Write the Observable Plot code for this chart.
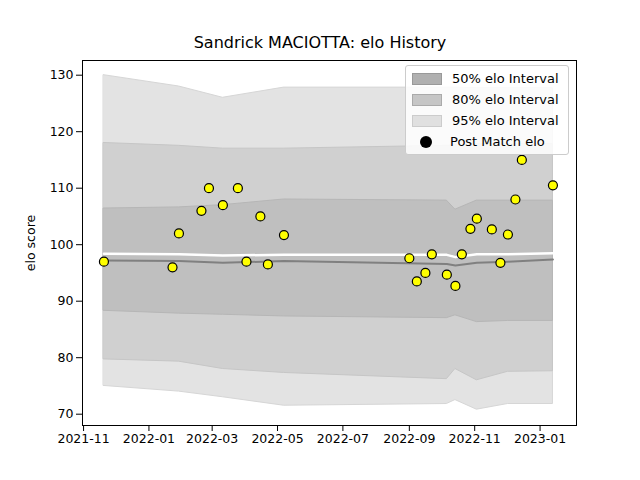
<!DOCTYPE html>
<html><head><meta charset="utf-8">
<script src="https://cdn.jsdelivr.net/npm/d3@7"></script>
<script src="https://cdn.jsdelivr.net/npm/@observablehq/plot@0.6"></script>
<style>
body{margin:0;font-family:"DejaVu Sans",sans-serif;}
#wrap{position:relative;width:640px;height:480px;}
#title{position:absolute;top:33px;left:0;width:640px;text-align:center;font-size:16px;}
#legend{position:absolute;left:405px;top:65px;width:162px;background:rgba(255,255,255,.85);border:1px solid #ccc;border-radius:3px;font-size:13px;padding:2px 0;}
#legend div{display:flex;align-items:center;height:21px;}
#legend span.sw{display:inline-block;width:28px;height:10px;margin:0 10px 0 6px;}
</style></head><body>
<div id="wrap"><div id="title">Sandrick MACIOTTA: elo History</div><div id="chart"></div>
<div id="legend">
<div><span class="sw" style="background:#b0b0b0;border:1px solid #999"></span>50% elo Interval</div>
<div><span class="sw" style="background:#c6c6c6;border:1px solid #aaa"></span>80% elo Interval</div>
<div><span class="sw" style="background:#e0e0e0;border:1px solid #ccc"></span>95% elo Interval</div>
<div><span class="sw" style="background:transparent;display:flex;justify-content:center"><span style="width:12px;height:12px;border-radius:50%;background:#000;display:inline-block;margin-top:-1px"></span></span>Post Match elo</div>
</div></div>
<script>
const matchDates = ["2021-11-20","2022-01-23","2022-01-29","2022-02-19","2022-02-26","2022-03-11","2022-03-25","2022-04-02","2022-04-15","2022-04-22","2022-05-07","2022-09-01","2022-09-08","2022-09-16","2022-09-22","2022-10-06","2022-10-14","2022-10-20","2022-10-28","2022-11-03","2022-11-17","2022-11-25","2022-12-02","2022-12-09","2022-12-15","2023-01-13"];
const matchElo = [97,96,102,106,110,107,110,97,105,96.5,101.7,97.6,93.5,95,98.3,94.7,92.7,98.3,102.8,104.6,102.7,96.8,101.8,108,115,110.5];

const bandDates = ["2021-11-20","2022-01-29","2022-03-11","2022-05-07","2022-10-06","2022-10-14","2022-11-03","2022-12-02","2023-01-13"];
const hi95 = [130,128,126,127.8,127.8,127.8,127.7,127.7,127.7];
const lo95 = [75,74,73,71.5,71.8,72.5,70.8,71.8,71.8];
const hi80 = [118,117.5,117,117,117.5,117.6,117.8,117.8,117.8];
const lo80 = [79.7,79.3,78,77.3,76.2,78,76,77.5,77.6];
const hi50 = [106.4,106.6,107,108,107.8,106.2,107.8,107.8,107.8];
const lo50 = [88.3,87.8,87.6,87.3,87,87.5,86.3,86.5,86.5];
const mean = [97.2,97.1,96.8,97.1,96.6,96.3,96.8,97,97.4];
const upperLine = [98.4,98.3,98.1,98.2,98.2,97.8,98.3,98.3,98.5];

const bands = bandDates.map((d,i)=>({date:new Date(d),hi95:hi95[i],lo95:lo95[i],hi80:hi80[i],lo80:lo80[i],hi50:hi50[i],lo50:lo50[i],mean:mean[i],up:upperLine[i]}));
const pts = matchDates.map((d,i)=>({date:new Date(d),elo:matchElo[i]}));

const chart = Plot.plot({
  width:640,height:480,
  marginTop:60,marginBottom:55,marginLeft:82,marginRight:64,
  style:{fontFamily:"DejaVu Sans",fontSize:"12.5px",color:"#000"},
  x:{type:"utc",domain:[new Date("2021-10-31"),new Date("2023-02-04")],ticks:d3.utcMonth.every(2),tickFormat:d3.utcFormat("%Y-%m"),label:null},
  y:{domain:[68,132.6],ticks:[70,80,90,100,110,120,130],label:"elo score",labelAnchor:"center",labelArrow:"none",labelOffset:56},
  marks:[
    Plot.areaY(bands,{x:"date",y1:"lo95",y2:"hi95",fill:"#e3e3e3",stroke:"#d6d6d6"}),
    Plot.areaY(bands,{x:"date",y1:"lo80",y2:"hi80",fill:"#d0d0d0",stroke:"#c6c6c6"}),
    Plot.areaY(bands,{x:"date",y1:"lo50",y2:"hi50",fill:"#bfbfbf",stroke:"#b6b6b6"}),
    Plot.lineY(bands,{x:"date",y:"mean",stroke:"#808080",strokeWidth:2}),
    Plot.lineY(bands,{x:"date",y:"up",stroke:"#fff",strokeWidth:2.5}),
    Plot.dot(pts,{x:"date",y:"elo",r:4.5,fill:"yellow",stroke:"#000",strokeWidth:1.2}),
    Plot.frame({stroke:"#000"})
  ]
});
document.getElementById("chart").append(chart);
</script></body></html>
